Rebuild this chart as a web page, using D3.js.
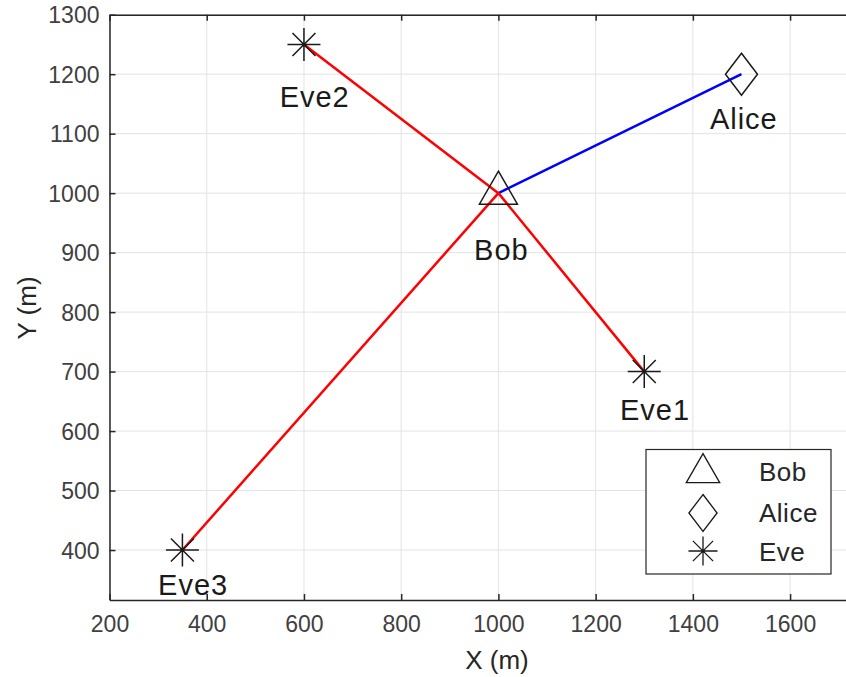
<!DOCTYPE html>
<html>
<head>
<meta charset="utf-8">
<script src="https://cdn.jsdelivr.net/npm/d3@7/dist/d3.min.js"></script>
<style>
  html, body { margin: 0; padding: 0; background: #fff; }
  svg { display: block; font-family: "Liberation Sans", Arial, Helvetica, sans-serif; }
</style>
</head>
<body>
<svg id="chart" width="846" height="677"></svg>
<script>
// Node positions (metres)
const nodeNames = ["Bob", "Alice", "Eve1", "Eve2", "Eve3"];
const nodeX = [1000, 1500, 1300, 600, 350];
const nodeY = [1000, 1200, 700, 1250, 400];
const nodeKind = ["Bob", "Alice", "Eve", "Eve", "Eve"];

// Text label anchors (metres), placed below each node
const labelX = [950, 1435, 1250, 550, 300];
const labelY = [904, 1125, 635, 1162, 341];

// Links from Bob to each other node
const linkTo = ["Alice", "Eve1", "Eve2", "Eve3"];
const linkColor = ["#0000ff", "#ff0000", "#ff0000", "#ff0000"];

// Axis settings
const xDomain = [200, 1715];
const yDomain = [316, 1300];
const xTicks = [200, 400, 600, 800, 1000, 1200, 1400, 1600];
const yTicks = [400, 500, 600, 700, 800, 900, 1000, 1100, 1200, 1300];
const legendItems = ["Bob", "Alice", "Eve"];

const svg = d3.select("#chart");
const plotL = 109.5, plotR = 846, plotT = 14.7, plotB = 600;
const x = d3.scaleLinear().domain(xDomain).range([plotL, plotR]);
const y = d3.scaleLinear().domain(yDomain).range([plotB, plotT]);

const axisColor = "#262626";
const gridColor = "#e3e3e3";

// Grid
const grid = svg.append("g");
grid.selectAll("line.gx").data(xTicks).join("line")
  .attr("class", "gx")
  .attr("x1", d => x(d)).attr("x2", d => x(d))
  .attr("y1", plotT).attr("y2", plotB)
  .attr("stroke", gridColor).attr("stroke-width", 1);
grid.selectAll("line.gy").data(yTicks).join("line")
  .attr("class", "gy")
  .attr("x1", plotL).attr("x2", plotR)
  .attr("y1", d => y(d)).attr("y2", d => y(d))
  .attr("stroke", gridColor).attr("stroke-width", 1);

// Axes (ticks pointing inward)
const fontTick = 23;
const fmt = d3.format("d");
const xAxis = svg.append("g").attr("transform", `translate(0,${plotB})`)
  .call(d3.axisBottom(x).tickValues(xTicks).tickFormat(fmt).tickSizeInner(-6).tickSizeOuter(0).tickPadding(16));
const xAxisTop = svg.append("g").attr("transform", `translate(0,${plotT})`)
  .call(d3.axisTop(x).tickValues(xTicks).tickSizeInner(-6).tickSizeOuter(0).tickFormat(""));
const yAxis = svg.append("g").attr("transform", `translate(${plotL},0)`)
  .call(d3.axisLeft(y).tickValues(yTicks).tickFormat(fmt).tickSizeInner(-6).tickSizeOuter(0).tickPadding(10));
[xAxis, xAxisTop, yAxis].forEach(g => {
  g.select(".domain").attr("stroke", axisColor).attr("stroke-width", 1.5);
  g.selectAll(".tick line").attr("stroke", axisColor).attr("stroke-width", 1.5);
  g.selectAll(".tick text").attr("fill", "#404040").attr("font-size", fontTick)
    .attr("font-family", "Liberation Sans, Arial, sans-serif");
});
xAxis.selectAll(".tick text").attr("dy", "0.68em");
yAxis.selectAll(".tick text").attr("dy", "0.35em");

// Axis titles
svg.append("text").attr("x", 497).attr("y", 669).attr("text-anchor", "middle")
  .attr("font-size", 26).attr("fill", "#262626").text("X (m)");
svg.append("text").attr("transform", "translate(36,308) rotate(-90)")
  .attr("text-anchor", "middle").attr("font-size", 26).attr("fill", "#262626").text("Y (m)");

// Links
const idx = name => nodeNames.indexOf(name);
const b = idx("Bob");
svg.append("g").selectAll("line").data(linkTo).join("line")
  .attr("x1", x(nodeX[b])).attr("y1", y(nodeY[b]))
  .attr("x2", d => x(nodeX[idx(d)])).attr("y2", d => y(nodeY[idx(d)]))
  .attr("stroke", (d, i) => linkColor[i]).attr("stroke-width", 2.5);

// Marker shapes, centred at (0,0)
function markerPath(kind) {
  if (kind === "Bob") {
    // triangle with centroid at origin
    return "M0,-22 L19,11 L-19,11 Z";
  } else if (kind === "Alice") {
    return "M0,-21 L16,0 L0,21 L-16,0 Z";
  } else {
    const r = 16.5, d = 11.5;
    return `M${-r},0 L${r},0 M0,${-r} L0,${r} M${-d},${-d} L${d},${d} M${-d},${d} L${d},${-d}`;
  }
}

svg.append("g").selectAll("path").data(nodeNames).join("path")
  .attr("transform", (d, i) => `translate(${x(nodeX[i])},${y(nodeY[i])})`)
  .attr("d", (d, i) => markerPath(nodeKind[i]))
  .attr("fill", "none").attr("stroke", "#1a1a1a").attr("stroke-width", 1.5);

// Node labels
svg.append("g").selectAll("text").data(nodeNames).join("text")
  .attr("x", (d, i) => x(labelX[i])).attr("y", (d, i) => y(labelY[i]))
  .attr("dy", "0.35em")
  .attr("font-size", 29).attr("letter-spacing", 1).attr("fill", "#1a1a1a").text(d => d);

// Legend
const lg = svg.append("g");
lg.append("rect").attr("x", 646).attr("y", 449.5).attr("width", 185).attr("height", 124.5)
  .attr("fill", "#fff").attr("stroke", axisColor).attr("stroke-width", 1.2);
const legendRowY = [472, 513, 552];
const legendMarkerY = [473, 513, 551];
lg.selectAll("path").data(legendItems).join("path")
  .attr("transform", (d, i) => `translate(703,${legendMarkerY[i]}) scale(0.88)`)
  .attr("d", d => markerPath(d))
  .attr("fill", "none").attr("stroke", "#1a1a1a").attr("stroke-width", 1.5);
lg.selectAll("text").data(legendItems).join("text")
  .attr("x", 759).attr("y", (d, i) => legendRowY[i]).attr("dy", "0.35em")
  .attr("font-size", 26).attr("letter-spacing", 0.5).attr("fill", "#262626").text(d => d);
</script>
</body>
</html>
